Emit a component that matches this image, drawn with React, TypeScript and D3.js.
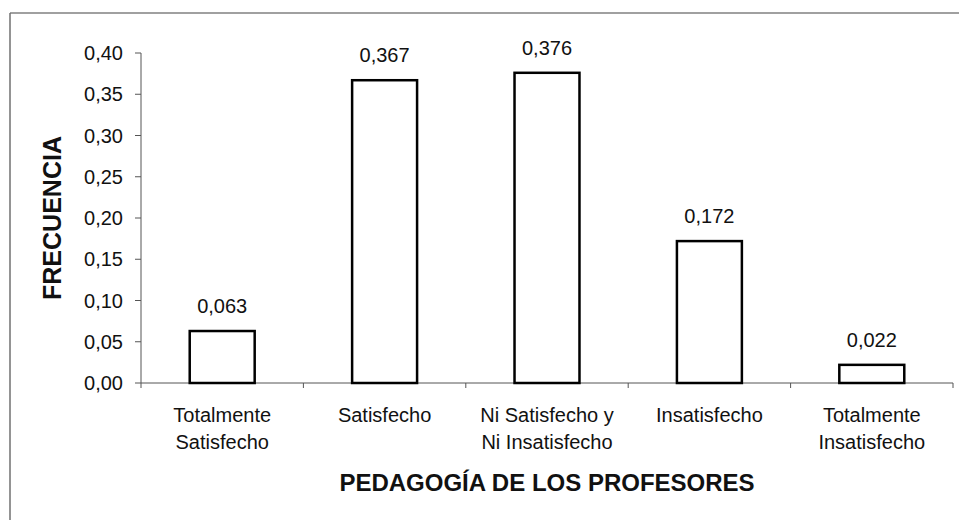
import React from "react";
import * as d3 from "d3";

const categories: string[][] = [
  ["Totalmente", "Satisfecho"],
  ["Satisfecho"],
  ["Ni Satisfecho y", "Ni Insatisfecho"],
  ["Insatisfecho"],
  ["Totalmente", "Insatisfecho"],
];
const values: number[] = [0.063, 0.367, 0.376, 0.172, 0.022];
const valueLabels: string[] = ["0,063", "0,367", "0,376", "0,172", "0,022"];
const yTicks: number[] = [0, 0.05, 0.1, 0.15, 0.2, 0.25, 0.3, 0.35, 0.4];
const yTitle = "FRECUENCIA";
const xTitle = "PEDAGOGÍA DE LOS PROFESORES";

const W = 959;
const H = 520;
const FONT = "'Liberation Sans', Arial, sans-serif";

export default function App() {
  const left = 141;
  const right = 953;
  const top = 53;
  const bottom = 383;

  const keys = categories.map((_, i) => String(i));
  const x = d3.scaleBand<string>().domain(keys).range([left, right]).padding(0);
  const y = d3.scaleLinear().domain([0, 0.4]).range([bottom, top]);
  const barW = x.bandwidth() * 0.4;
  const fmt = (v: number) => d3.format(".2f")(v).replace(".", ",");

  const boundaries = keys.map((k) => x(k) as number).concat([right]);

  return (
    <svg
      width={W}
      height={H}
      style={{ position: "absolute", left: 0, top: 0, background: "#fff" }}
      fontFamily={FONT}
    >
      {/* frame */}
      <line x1={10} y1={13} x2={W} y2={13} stroke="#808080" strokeWidth={1.5} />
      <line x1={10} y1={13} x2={10} y2={H} stroke="#707070" strokeWidth={1.5} />

      {/* y axis */}
      <line x1={left} y1={y(0.4)} x2={left} y2={bottom} stroke="#555" strokeWidth={1} />
      {yTicks.map((t) => (
        <g key={t}>
          <line x1={left - 6} x2={left} y1={y(t)} y2={y(t)} stroke="#555" strokeWidth={1} />
          <text
            x={123}
            y={y(t)}
            dy="0.35em"
            textAnchor="end"
            fontSize={20}
            fill="#111"
          >
            {fmt(t)}
          </text>
        </g>
      ))}

      {/* x axis */}
      <line x1={left} y1={bottom} x2={right} y2={bottom} stroke="#555" strokeWidth={1} />
      {boundaries.map((b, i) => (
        <line key={i} x1={b} x2={b} y1={bottom} y2={bottom + 5} stroke="#555" strokeWidth={1} />
      ))}

      {/* bars */}
      {values.map((v, i) => {
        const cx = (x(keys[i]) as number) + x.bandwidth() / 2;
        return (
          <g key={i}>
            <rect
              x={cx - barW / 2}
              y={y(v)}
              width={barW}
              height={bottom - y(v)}
              fill="#fff"
              stroke="#000"
              strokeWidth={2.5}
            />
            <text x={cx} y={y(v) - 18} textAnchor="middle" fontSize={20} fill="#111">
              {valueLabels[i]}
            </text>
            {categories[i].map((line, j) => (
              <text
                key={j}
                x={cx}
                y={422 + j * 27}
                textAnchor="middle"
                fontSize={20}
                fill="#111"
              >
                {line}
              </text>
            ))}
          </g>
        );
      })}

      {/* titles */}
      <text
        x={(left + right) / 2}
        y={491}
        textAnchor="middle"
        fontSize={24}
        fontWeight="bold"
        fill="#111"
      >
        {xTitle}
      </text>
      <text
        transform={`translate(61, ${(top + bottom) / 2}) rotate(-90)`}
        textAnchor="middle"
        fontSize={25}
        fontWeight="bold"
        fill="#111"
      >
        {yTitle}
      </text>
    </svg>
  );
}
